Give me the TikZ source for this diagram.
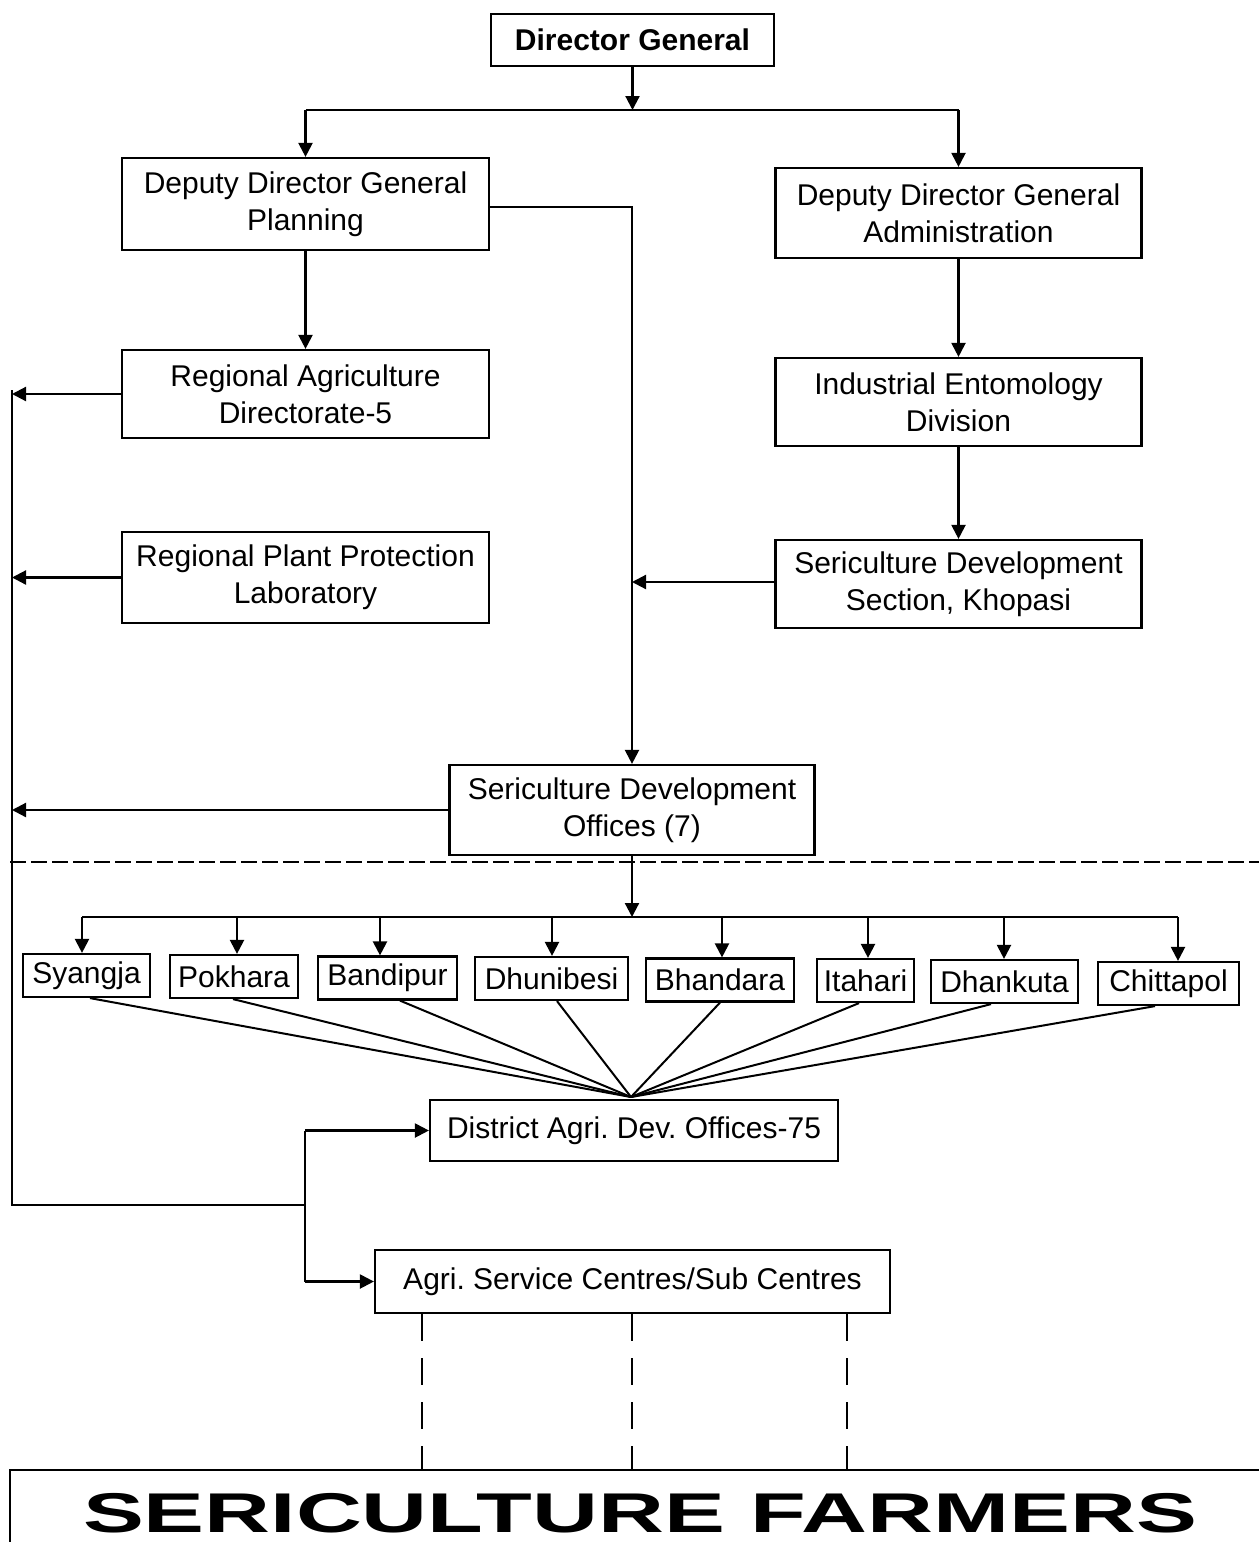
\documentclass[tikz,border=0pt]{standalone}
\usepackage{fontspec}
\setmainfont{Liberation Sans}
\usetikzlibrary{arrows.meta}
\frenchspacing
\begin{document}
\frenchspacing
\begin{tikzpicture}[x=1pt,y=-1pt, line width=2.2pt,
  box/.style={draw, line width=2.2pt, inner sep=0pt, align=center, font=\fontsize{30}{37}\selectfont},
  wide/.style={box, minimum width=366pt},
  office/.style={box, minimum height=43pt},
  arr/.style={-{Triangle[length=14pt,width=14pt]}},
  sep/.style={line width=1.6pt, dash pattern=on 16pt off 5pt},
  dashv/.style={line width=2pt, dash pattern=on 27pt off 17pt}
  ]
\fill[white] (0,0) rectangle (1259,1542);
\useasboundingbox (0,0) rectangle (1259,1542);

% boxes
\node[box, minimum width=283pt, minimum height=52pt, font=\fontsize{30}{37}\selectfont\bfseries] (dg) at (632.5,40) {Director General};
\node[wide, minimum width=367pt, minimum height=92pt] (ddgp) at (305.5,204) {Deputy Director General\\Planning};
\node[wide, minimum height=90pt] (ddga) at (958.5,213) {Deputy Director General\\Administration};
\node[wide, minimum width=367pt, minimum height=88pt] (rad) at (305.5,394) {Regional Agriculture\\Directorate-5};
\node[wide, minimum height=88pt] (ied) at (958.5,402) {Industrial Entomology\\Division};
\node[wide, minimum width=367pt, minimum height=91pt] (rppl) at (305.5,577.5) {Regional Plant Protection\\Laboratory};
\node[wide, minimum height=88pt] (sds) at (958.5,584) {Sericulture Development\\Section, Khopasi};
\node[wide, minimum width=365pt, minimum height=90pt] (sdo) at (632,810) {Sericulture Development\\Offices (7)};

\node[office, minimum width=127pt] (o1) at (86.5,975.5) {Syangja};
\node[office, minimum width=128pt] (o2) at (234,976.5) {Pokhara};
\node[office, minimum width=139pt] (o3) at (387.5,978) {Bandipur};
\node[office, minimum width=153pt] (o4) at (551.5,978.5) {Dhunibesi};
\node[office, minimum width=148pt] (o5) at (720,980) {Bhandara};
\node[office, minimum width=97pt] (o6) at (865.5,980.5) {Itahari};
\node[office, minimum width=147pt] (o7) at (1004.5,981.5) {Dhankuta};
\node[office, minimum width=141pt] (o8) at (1168.5,983.5) {Chittapol};

\node[box, minimum width=408pt, minimum height=61pt] (district) at (634,1130.5) {District Agri. Dev. Offices-75};
\node[box, minimum width=515pt, minimum height=63pt] (agri) at (632.5,1281.5) {Agri. Service Centres/Sub Centres};

% farmers frame and label
\draw (10,1542) -- (10,1470) -- (1259,1470);
\node[anchor=base, inner sep=0pt] (farmers) at (640,1532)
  {\scalebox{1.63}[1]{\fontsize{56}{56}\selectfont\bfseries SERICULTURE FARMERS}};

% coordinates
\coordinate (bus1) at (632,110);
\coordinate (bus2) at (632,917);
\coordinate (ltop) at (12,390);
\coordinate (lbot) at (12,1205);
\coordinate (j) at (305,1205);
\coordinate (conv) at (631,1097);
\coordinate (dl) at (10,862);
\coordinate (dr) at (1259,862);
\coordinate (f1) at (422,1470);
\coordinate (f2) at (632,1470);
\coordinate (f3) at (847,1470);

% top part
\draw[arr] (dg.south) -- (dg.south |- bus1);
\draw (ddgp.north |- bus1) -- (ddga.north |- bus1);
\draw[arr] (ddgp.north |- bus1) -- (ddgp.north);
\draw[arr] (ddga.north |- bus1) -- (ddga.north);
\draw[arr] (ddgp.south) -- (rad.north);
\draw[arr] ([yshift=-3pt]ddgp.east) -- ([yshift=-3pt]ddgp.east -| sdo.north) -- (sdo.north);
\draw[arr] (ddga.south) -- (ied.north);
\draw[arr] (ied.south) -- (sds.north);
\draw[arr] ([yshift=2pt]sds.west) -- ([yshift=2pt]sds.west -| sdo.north);

% left collector line
\draw (ltop) -- (lbot) -- (j);
\draw[arr] (rad.west) -- (rad.west -| ltop);
\draw[arr] (rppl.west) -- (rppl.west -| ltop);
\draw[arr] (sdo.west) -- (sdo.west -| ltop);
\draw (j |- district.west) -- (j |- agri.west);
\draw[arr] (j |- district.west) -- (district.west);
\draw[arr] (j |- agri.west) -- (agri.west);

% separator
\draw[sep] (dl) -- (dr);

% offices bus
\coordinate (a1) at ([xshift=-4.5pt]o1.north);
\coordinate (a2) at ([xshift=3pt]o2.north);
\coordinate (a3) at ([xshift=-7.5pt]o3.north);
\coordinate (a4) at ([xshift=0.5pt]o4.north);
\coordinate (a5) at ([xshift=2pt]o5.north);
\coordinate (a6) at ([xshift=2.5pt]o6.north);
\coordinate (a7) at ([xshift=-0.5pt]o7.north);
\coordinate (a8) at ([xshift=9.5pt]o8.north);
\draw[arr] (sdo.south) -- (sdo.south |- bus2);
\draw (a1 |- bus2) -- (a8 |- bus2);
\foreach \a in {a1,a2,a3,a4,a5,a6,a7,a8}
  \draw[arr] (\a |- bus2) -- (\a);

% converging lines
\draw[line width=2pt] ([xshift=3.5pt]o1.south) -- (conv);
\draw[line width=2pt] ([xshift=-1pt]o2.south) -- (conv);
\draw[line width=2pt] ([xshift=12.5pt]o3.south) -- (conv);
\draw[line width=2pt] ([xshift=5.5pt]o4.south) -- (conv);
\draw[line width=2pt] (o5.south) -- (conv);
\draw[line width=2pt] ([xshift=-6.5pt]o6.south) -- (conv);
\draw[line width=2pt] ([xshift=-13.5pt]o7.south) -- (conv);
\draw[line width=2pt] ([xshift=-13.5pt]o8.south) -- (conv);

% dashed links to farmers
\draw[dashv] (agri.south -| f1) -- (f1);
\draw[dashv] (agri.south -| f2) -- (f2);
\draw[dashv] (agri.south -| f3) -- (f3);
\end{tikzpicture}
\end{document}
